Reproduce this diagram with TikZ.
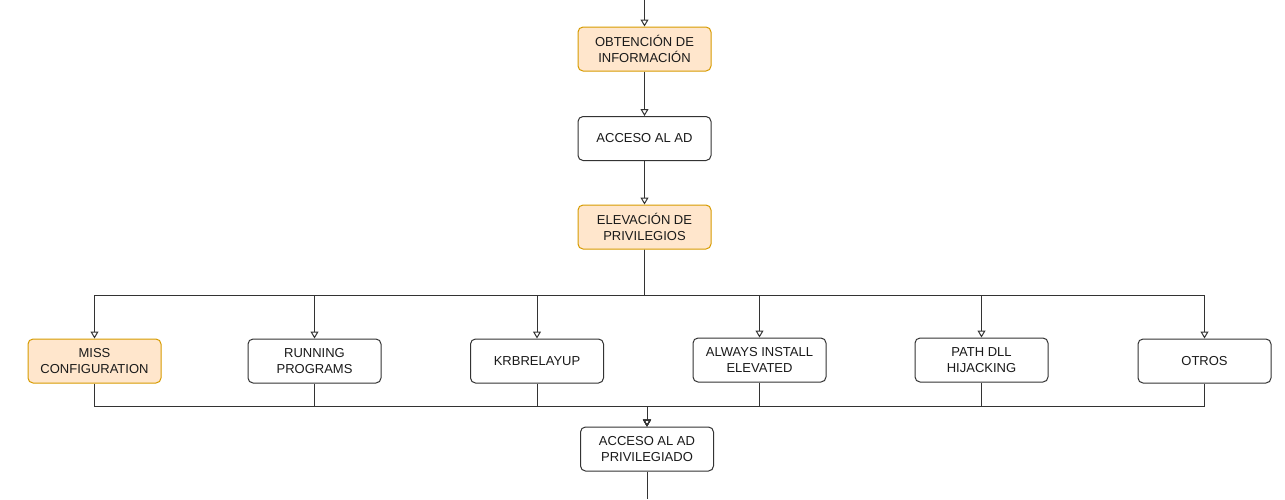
\documentclass[tikz,border=0pt]{standalone}
\usepackage{fontspec}
\setmainfont{Liberation Sans}
\usetikzlibrary{arrows.meta}
\definecolor{orfill}{HTML}{FFE6CC}
\definecolor{ordraw}{HTML}{D79B00}
\definecolor{ln}{HTML}{333333}
\definecolor{tx}{HTML}{1A1A1A}
\begin{document}
\begin{tikzpicture}[x=1pt,y=-1pt,
  box/.style={rectangle, rounded corners=5pt, draw=ln, line width=1pt, fill=white,
    minimum width=133pt, minimum height=44pt, inner sep=0pt, align=center,
    text=tx, font=\fontsize{13}{16.5}\selectfont},
  obox/.style={box, draw=ordraw, fill=orfill},
  arr/.style={draw=ln, line width=1pt, -{Triangle[open, length=7pt, width=8pt]}},
  ln/.style={draw=ln, line width=1pt}]
\useasboundingbox (0,0) rectangle (1285,499);
\node[obox] (obt) at (644.5,49) {OBTENCIÓN DE\\INFORMACIÓN};
\node[box] (acc) at (644.5,138.5) {ACCESO AL AD};
\node[obox] (elev) at (644.5,227) {ELEVACIÓN DE\\PRIVILEGIOS};
\node[obox] (miss) at (94.5,361) {MISS\\CONFIGURATION};
\node[box] (run) at (314.5,361) {RUNNING\\PROGRAMS};
\node[box] (krb) at (537,361) {KRBRELAYUP};
\node[box] (alw) at (759.5,360) {ALWAYS INSTALL\\ELEVATED};
\node[box] (path) at (981.5,360) {PATH DLL\\HIJACKING};
\node[box] (otr) at (1204.5,361) {OTROS};
\node[box] (priv) at (647,449) {ACCESO AL AD\\PRIVILEGIADO};
\coordinate (top) at (644.5,0);
\coordinate (bot) at (647,499);
\draw[arr] (top) -- (obt);
\draw[arr] (obt) -- (acc);
\draw[arr] (acc) -- (elev);
\foreach \n in {miss,run,krb,alw,path,otr}{
  \draw[arr] (elev.south) -- ++(0,46) -| (\n.north);
}
\draw[arr] (miss.south) -- ++(0,23) -| (priv.north);
\draw[arr] (run.south) -- ++(0,23) -| (priv.north);
\draw[arr] (krb.south) -- ++(0,23) -| (priv.north);
\draw[arr] (alw.south) -- ++(0,24) -| (priv.north);
\draw[arr] (path.south) -- ++(0,24) -| (priv.north);
\draw[arr] (otr.south) -- ++(0,23) -| (priv.north);
\draw[ln] (priv) -- (bot);
\end{tikzpicture}
\end{document}
